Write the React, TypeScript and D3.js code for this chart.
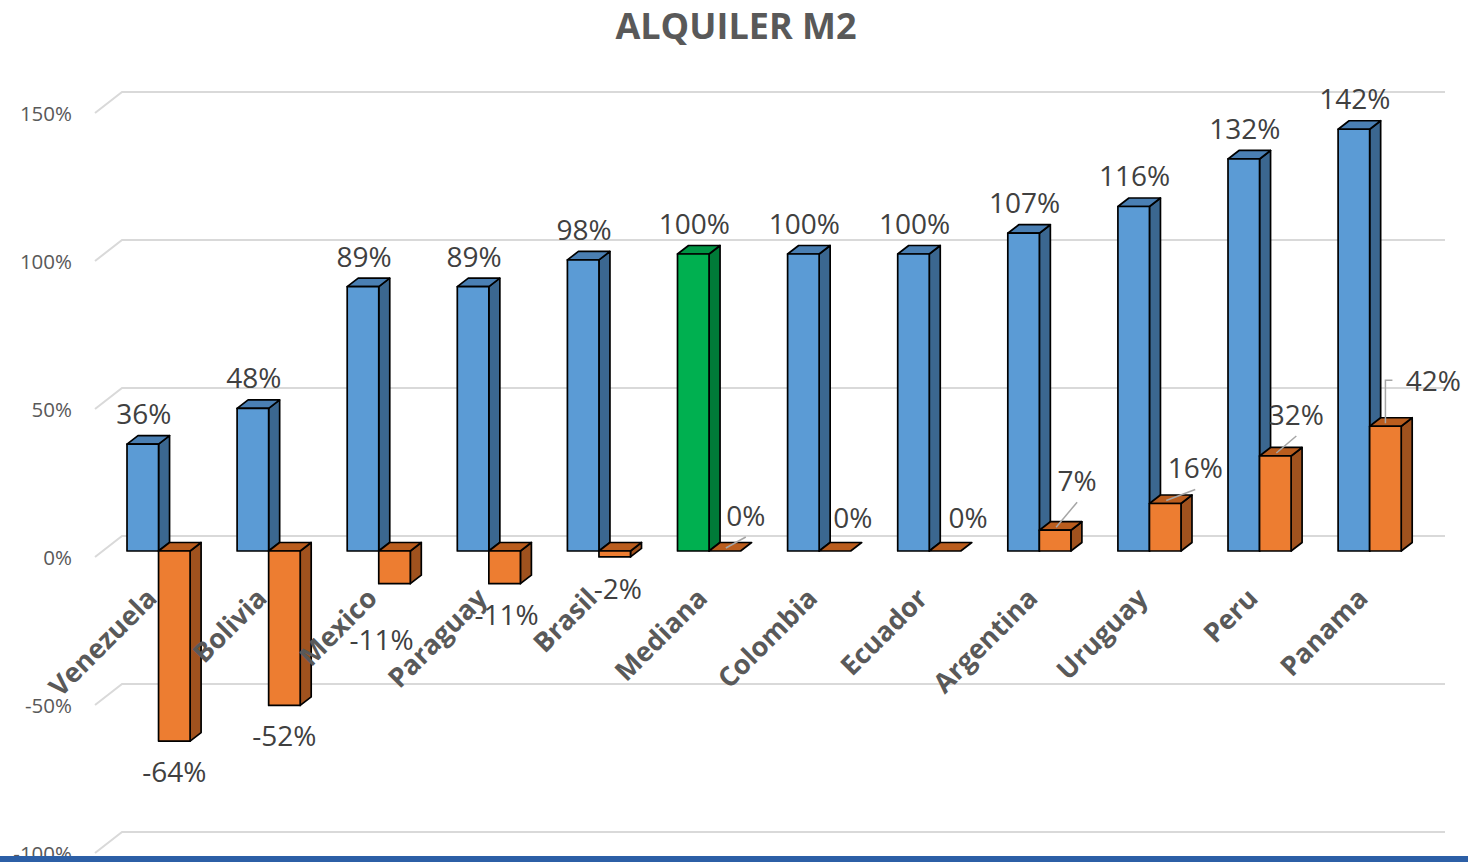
import React, { useEffect } from 'react';
import * as d3 from 'd3';

const title = 'ALQUILER M2';
const categories = ['Venezuela', 'Bolivia', 'Mexico', 'Paraguay', 'Brasil', 'Mediana', 'Colombia', 'Ecuador', 'Argentina', 'Uruguay', 'Peru', 'Panama'];
const seriesBlue = [36, 48, 89, 89, 98, 100, 100, 100, 107, 116, 132, 142];
const seriesOrange = [-64, -52, -11, -11, -2, 0, 0, 0, 7, 16, 32, 42];
const yTicks = [-100, -50, 0, 50, 100, 150];
const highlightCategory = 'Mediana';

// layout tweaks for the orange data labels (offset from default spot) and leader line type
const orangeLabelShift: [number, number][] = [
  [0, 0], [0, 0], [-13, 25], [2, 0], [3, 1], [21, 0],
  [18, 2], [23, 2], [22, -14], [30, 0], [21, -6], [48, -10],
];
const orangeLeader = [0, 0, 0, 0, 0, 1, 0, 0, 1, 1, 1, 2];

const W = 1468;
const H = 862;
const FONT = '"Open Sans", "Liberation Sans", sans-serif';

const COLORS = {
  blue: { front: '#5B9BD5', top: '#4A7FB3', side: '#3B6790' },
  green: { front: '#00B050', top: '#009444', side: '#007A38' },
  orange: { front: '#ED7D31', top: '#BA5D1E', side: '#A0521E' },
};

const DX = 11;
const DY = -8.5;

type Face = { key: string; d: string; fill: string };

function barFaces(key: string, x0: number, w: number, yZero: number, yVal: number, c: { front: string; top: string; side: string }): Face[] {
  const yTop = Math.min(yZero, yVal);
  const yBot = Math.max(yZero, yVal);
  const faces: Face[] = [];
  const side = d3.path();
  side.moveTo(x0 + w, yTop);
  side.lineTo(x0 + w + DX, yTop + DY);
  side.lineTo(x0 + w + DX, yBot + DY);
  side.lineTo(x0 + w, yBot);
  side.closePath();
  const top = d3.path();
  top.moveTo(x0, yTop);
  top.lineTo(x0 + w, yTop);
  top.lineTo(x0 + w + DX, yTop + DY);
  top.lineTo(x0 + DX, yTop + DY);
  top.closePath();
  if (yBot - yTop > 0.5) faces.push({ key: key + 's', d: side.toString(), fill: c.side });
  faces.push({ key: key + 't', d: top.toString(), fill: c.top });
  if (yBot - yTop > 0.5) {
    const front = d3.path();
    front.rect(x0, yTop, w, yBot - yTop);
    faces.push({ key: key + 'f', d: front.toString(), fill: c.front });
  }
  return faces;
}

export default function App() {
  useEffect(() => {
    document.body.style.margin = '0';
    document.body.style.overflow = 'hidden';
  }, []);

  const x = d3.scaleBand<string>().domain(categories).range([103.5, 1424.7]).padding(0);
  const yFront = d3.scaleLinear().domain([-100, 150]).range([848, 105.5]);
  const yBack = d3.scaleLinear().domain([-100, 150]).range([832, 92]);
  const bw = x.bandwidth() * 0.2865;

  const gridX0 = 95;
  const gridX1 = 122;
  const gridX2 = 1445;
  const gridDrop = 21;

  const faces: Face[] = [];
  categories.forEach((cat, i) => {
    const cx = (x(cat) as number) + x.bandwidth() / 2;
    const bc = cat === highlightCategory ? COLORS.green : COLORS.blue;
    faces.push(...barFaces('b' + i, cx - bw, bw, yFront(0), yFront(seriesBlue[i]), bc));
    faces.push(...barFaces('o' + i, cx, bw, yFront(0), yFront(seriesOrange[i]), COLORS.orange));
  });

  const fmt = (v: number) => `${v}%`;

  return (
    <svg width={W} height={H} style={{ position: 'absolute', left: 0, top: 0, background: '#fff' }} fontFamily={FONT}>
      <rect x={0} y={0} width={W} height={H} fill="#ffffff" />
      <text x={736} y={39} textAnchor="middle" fontSize={36} fontWeight="bold" fill="#595959">{title}</text>

      {yTicks.map((t) => {
        const yb = yBack(t);
        const p = d3.path();
        p.moveTo(gridX0, yb + gridDrop);
        p.lineTo(gridX1, yb);
        p.lineTo(gridX2, yb);
        return (
          <g key={'g' + t}>
            <path d={p.toString()} fill="none" stroke="#D9D9D9" strokeWidth={2} />
            <text x={72} y={yb + gridDrop} textAnchor="end" dominantBaseline="central" fontSize={20.5} fill="#595959">{fmt(t)}</text>
          </g>
        );
      })}

      {faces.map((f) => (
        <path key={f.key} d={f.d} fill={f.fill} stroke="#000" strokeWidth={1.7} strokeLinejoin="round" />
      ))}

      {categories.map((cat, i) => {
        const cx = (x(cat) as number) + x.bandwidth() / 2;
        return (
          <text key={'c' + i} transform={`translate(${cx},${600}) rotate(-45)`} textAnchor="end" fontSize={27} fontWeight="bold" fill="#595959">{cat}</text>
        );
      })}

      {categories.map((cat, i) => {
        const fc = (x(cat) as number) + x.bandwidth() / 2 - bw / 2;
        return (
          <text key={'lb' + i} x={fc + 1} y={yFront(seriesBlue[i]) - 20} textAnchor="middle" fontSize={28} fill="#404040">{fmt(seriesBlue[i])}</text>
        );
      })}

      {categories.map((cat, i) => {
        const fc = (x(cat) as number) + x.bandwidth() / 2 + bw / 2;
        const v = seriesOrange[i];
        const yv = yFront(v);
        const [sx, sy] = orangeLabelShift[i];
        const lx = fc + sx;
        const ly = (v < 0 ? yv + 41 : yv - 25) + sy;
        let leader: string | null = null;
        if (orangeLeader[i] === 1) {
          const p = d3.path();
          p.moveTo(fc + 1, yv - 3);
          p.lineTo(lx, ly + 11);
          leader = p.toString();
        } else if (orangeLeader[i] === 2) {
          const p = d3.path();
          p.moveTo(fc, yv - 3);
          p.lineTo(fc, ly - 11);
          p.lineTo(lx - 41, ly - 11);
          leader = p.toString();
        }
        return (
          <g key={'lo' + i}>
            {leader && <path d={leader} fill="none" stroke="#A6A6A6" strokeWidth={1.5} />}
            <text x={lx} y={ly} textAnchor="middle" fontSize={28} fill="#404040">{fmt(v)}</text>
          </g>
        );
      })}

      <rect x={0} y={856} width={W} height={6} fill="#2C5FA6" />
    </svg>
  );
}
